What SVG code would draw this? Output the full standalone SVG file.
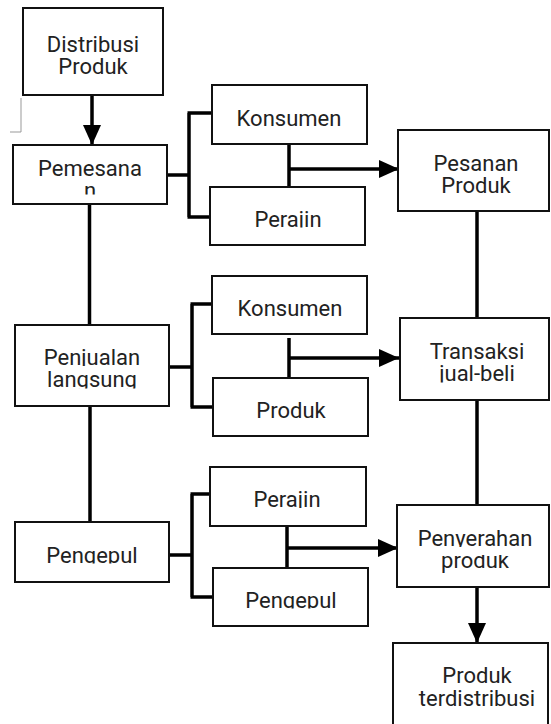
<svg xmlns="http://www.w3.org/2000/svg" width="551" height="724" viewBox="0 0 551 724">
<style>
.box{fill:#fff;stroke:#111;stroke-width:2}
.t{font-family:Roboto,"Liberation Sans",sans-serif;font-size:22px;fill:#222;text-anchor:middle}
.c{fill:none;stroke:#000;stroke-width:3.5}
</style>
<defs>
<marker id="ah" markerUnits="userSpaceOnUse" markerWidth="21" markerHeight="19" refX="20" refY="9" orient="auto" viewBox="0 0 21 19">
<path d="M0,0 L20,9 L0,18 z" fill="#000"/>
</marker>
<clipPath id="cpPem"><rect x="0" y="150" width="200" height="44.5"/></clipPath>
<clipPath id="cpPer1"><rect x="200" y="190" width="170" height="37.5"/></clipPath>
<clipPath id="cpPen"><rect x="0" y="330" width="200" height="36"/><rect x="0" y="370" width="200" height="18.5"/></clipPath>
<clipPath id="cpTra"><rect x="400" y="325" width="151" height="57.5"/></clipPath>
<clipPath id="cpPeng1"><rect x="0" y="525" width="200" height="38.5"/></clipPath>
<clipPath id="cpPer2"><rect x="200" y="470" width="170" height="38"/></clipPath>
<clipPath id="cpPeng2"><rect x="200" y="570" width="170" height="38.5"/></clipPath>
<clipPath id="cpPny"><rect x="400" y="510" width="151" height="37"/><rect x="400" y="555" width="151" height="25"/></clipPath>
</defs>

<path d="M21,98 V132 H10" fill="none" stroke="#999" stroke-width="1"/>

<g id="connectors">
<path class="c" d="M92,95 V145" marker-end="url(#ah)"/>
<path class="c" d="M89.5,204 V325"/>
<path class="c" d="M90,406 V522"/>
<path class="c" d="M167,175 H189 M189,113 V217 M187.5,113 H212 M187.5,217 H210"/>
<path class="c" d="M169,367 H192 M192,304 V407 M190.5,304 H212 M190.5,407 H213"/>
<path class="c" d="M169,555 H192 M192,494 V597 M190.5,494 H210 M190.5,597 H213"/>
<path class="c" d="M289,144 V187"/>
<path class="c" d="M289,169 H399" marker-end="url(#ah)"/>
<path class="c" d="M289,338 V378"/>
<path class="c" d="M289,358 H399" marker-end="url(#ah)"/>
<path class="c" d="M287,526 V568"/>
<path class="c" d="M287,548 H398" marker-end="url(#ah)"/>
<path class="c" d="M477,211 V318"/>
<path class="c" d="M477,400 V505"/>
<path class="c" d="M477,587 V643" marker-end="url(#ah)"/>
</g>

<g id="distribusi"><rect class="box" x="23" y="8" width="140" height="87"/><text class="t" x="93" y="52">Distribusi<tspan x="93" dy="22">Produk</tspan></text></g>
<g id="pemesanan"><rect class="box" x="13" y="145" width="154" height="59"/><text class="t" x="90" y="176" clip-path="url(#cpPem)">Pemesana<tspan x="90" dy="22">n</tspan></text></g>
<g id="konsumen1"><rect class="box" x="212" y="85" width="155" height="59"/><text class="t" x="289" y="126">Konsumen</text></g>
<g id="perajin1"><rect class="box" x="210" y="187" width="155" height="58"/><text class="t" x="288" y="227" clip-path="url(#cpPer1)">Perajin</text></g>
<g id="pesanan"><rect class="box" x="398" y="130" width="151" height="81"/><text class="t" x="476" y="171">Pesanan<tspan x="476" dy="22">Produk</tspan></text></g>
<g id="penjualan"><rect class="box" x="15" y="325" width="154" height="81"/><text class="t" x="92" y="365" clip-path="url(#cpPen)">Penjualan<tspan x="92" dy="22">langsung</tspan></text></g>
<g id="konsumen2"><rect class="box" x="212" y="276" width="155" height="58"/><text class="t" x="290" y="316">Konsumen</text></g>
<g id="produk"><rect class="box" x="213" y="378" width="155" height="58"/><text class="t" x="291" y="418">Produk</text></g>
<g id="transaksi"><rect class="box" x="400" y="318" width="149" height="82"/><text class="t" x="477" y="359" clip-path="url(#cpTra)">Transaksi<tspan x="477" dy="22">jual-beli</tspan></text></g>
<g id="pengepul1"><rect class="box" x="15" y="522" width="154" height="60"/><text class="t" x="92" y="563" clip-path="url(#cpPeng1)">Pengepul</text></g>
<g id="perajin2"><rect class="box" x="210" y="467" width="156" height="59"/><text class="t" x="287" y="507" clip-path="url(#cpPer2)">Perajin</text></g>
<g id="pengepul2"><rect class="box" x="213" y="568" width="155" height="58"/><text class="t" x="291" y="608" clip-path="url(#cpPeng2)">Pengepul</text></g>
<g id="penyerahan"><rect class="box" x="397" y="505" width="152" height="82"/><text class="t" x="475" y="546" clip-path="url(#cpPny)">Penyerahan<tspan x="475" dy="22">produk</tspan></text></g>
<g id="terdistribusi"><rect class="box" x="393" y="643" width="155" height="100"/><text class="t" x="477" y="683">Produk<tspan x="477" dy="23">terdistribusi</tspan></text></g>
</svg>
